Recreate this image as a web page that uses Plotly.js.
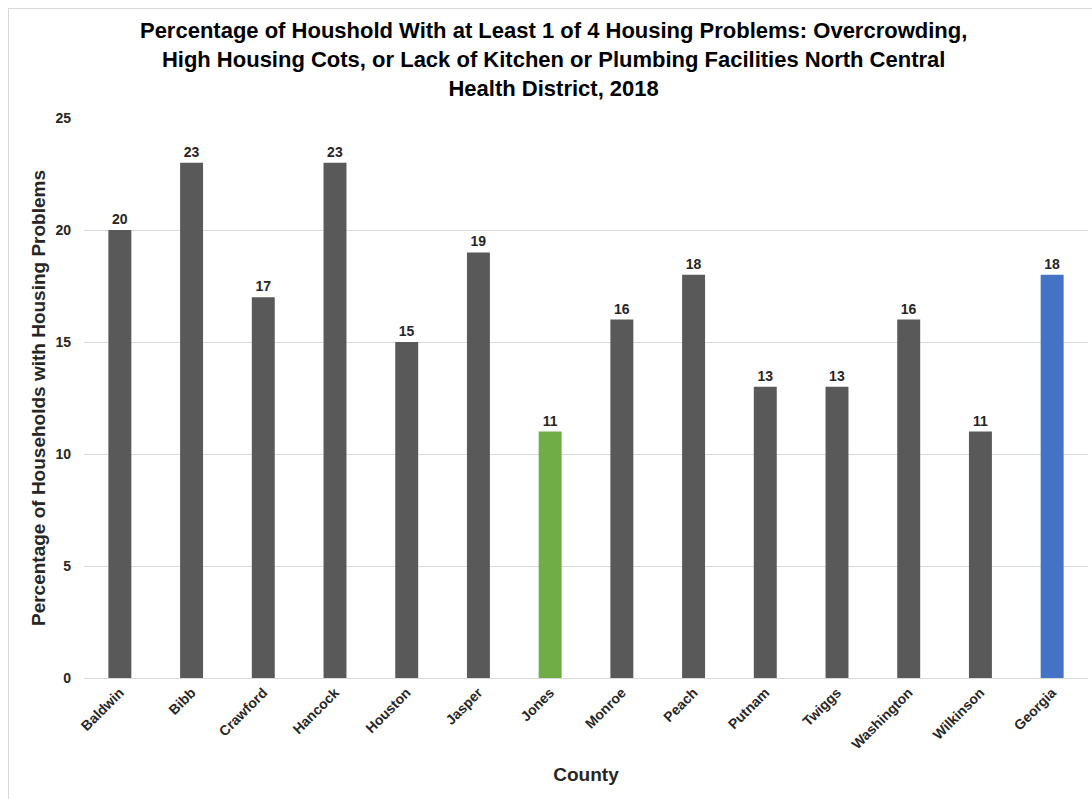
<!DOCTYPE html>
<html><head><meta charset="utf-8">
<script src="https://cdn.plot.ly/plotly-3.0.1.min.js"></script>
<style>
html,body{margin:0;padding:0;background:#fff;}
#frame{position:absolute;left:8px;top:8px;width:1084px;height:791px;border-left:1px solid #d9d9d9;border-top:1px solid #d9d9d9;}
#chart{position:absolute;left:0;top:0;width:1092px;height:799px;}
</style></head>
<body>
<div id="frame"></div>
<div id="chart"></div>
<script>
const counties = ["Baldwin","Bibb","Crawford","Hancock","Houston","Jasper","Jones","Monroe","Peach","Putnam","Twiggs","Washington","Wilkinson","Georgia"];
const percentages = [20,23,17,23,15,19,11,16,18,13,13,16,11,18];
const barColors = counties.map(c => c === "Jones" ? "#70AD47" : (c === "Georgia" ? "#4472C4" : "#595959"));

const trace = {
  type: "bar",
  x: counties,
  y: percentages,
  marker: {color: barColors},
  text: percentages.map(String),
  textposition: "outside",
  cliponaxis: false,
  textfont: {family: "Liberation Sans, Arial, sans-serif", size: 14, color: "#262626", weight: "bold"},
  hoverinfo: "x+y"
};

const layout = {
  width: 1092, height: 799,
  paper_bgcolor: "rgba(0,0,0,0)",
  plot_bgcolor: "rgba(0,0,0,0)",
  margin: {l: 84, r: 4, t: 118, b: 121},
  bargap: 0.68,
  showlegend: false,
  font: {family: "Liberation Sans, Arial, sans-serif", color: "#262626"},
  title: {
    text: "<b>Percentage of Houshold With at Least 1 of 4 Housing Problems: Overcrowding,<br>High Housing Cots, or Lack of Kitchen or Plumbing Facilities North Central<br>Health District, 2018</b>",
    font: {size: 22, color: "#000"},
    x: 0.507, xanchor: "center",
    yref: "container", y: 0.952, yanchor: "top"
  },
  xaxis: {
    title: {text: "<b>County</b>", font: {size: 19, color: "#262626"}, standoff: 16},
    tickangle: -45,
    tickfont: {size: 14, color: "#262626", weight: "bold"},
    showline: true, linecolor: "#d9d9d9", linewidth: 1,
    ticks: "",
    fixedrange: true
  },
  yaxis: {
    title: {text: "<b>Percentage of Households with Housing Problems</b>", font: {size: 19, color: "#262626"}, standoff: 4},
    range: [0, 25],
    dtick: 5,
    tickfont: {size: 14, color: "#262626", weight: "bold"},
    gridcolor: "#d9d9d9",
    zeroline: false,
    ticks: "",
    ticklabelstandoff: 12,
    fixedrange: true
  }
};

Plotly.newPlot("chart", [trace], layout, {displayModeBar: false, staticPlot: true});
</script>
</body></html>
